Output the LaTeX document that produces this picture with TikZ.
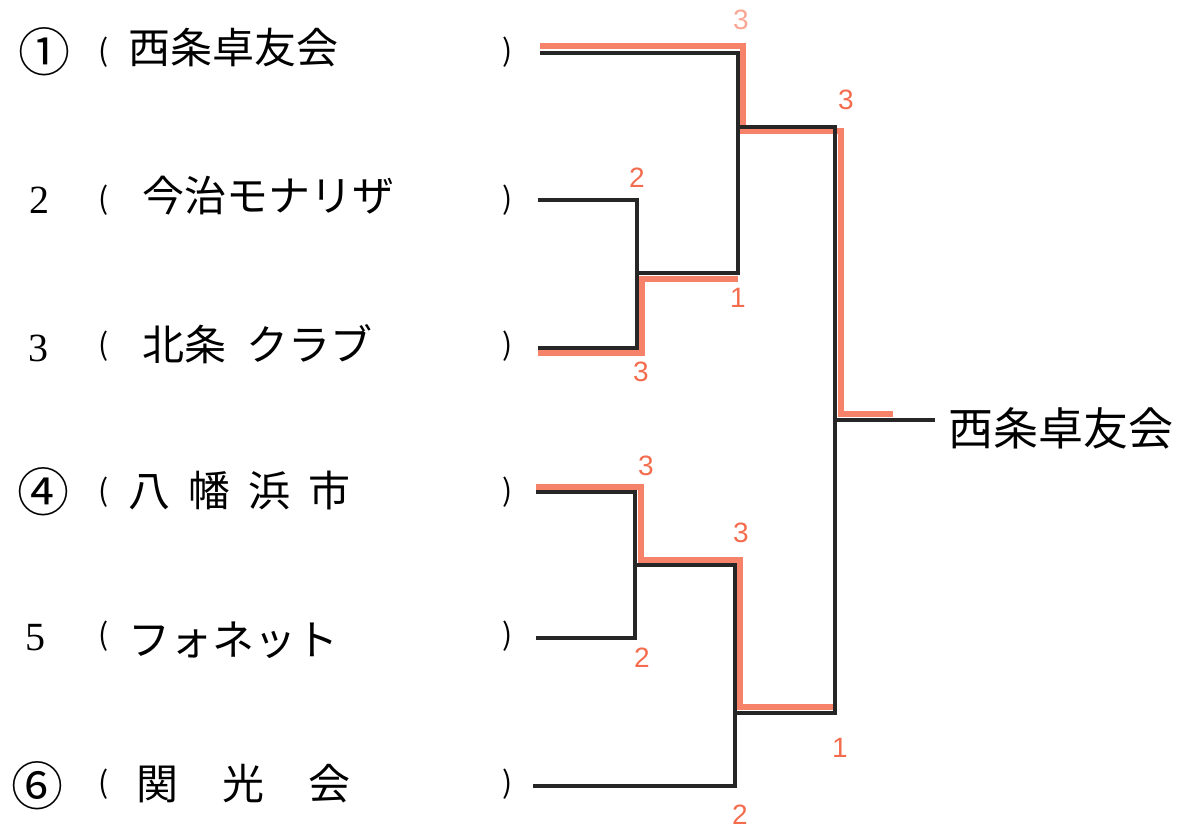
\documentclass[tikz,border=0pt]{standalone}
\usepackage{fontspec}
\setmainfont{Liberation Serif}
\newfontfamily\jpfont{Noto Sans CJK JP}
\newfontfamily\scorefont{Liberation Sans}
\definecolor{winred}{RGB}{244,108,78}

\begin{document}
\begin{tikzpicture}[x=1pt,y=-1pt,
  bracket/.style={line width=3.4pt, black!85, line join=miter},
  winpath/.style={line width=6pt, winred!85, line join=miter},
  score/.style={text=winred, font=\scorefont\fontsize{28}{28}\selectfont, inner sep=0pt},
  seed/.style={font=\jpfont\fontsize{52}{52}\selectfont, inner sep=0pt},
  num/.style={font=\fontsize{40}{40}\selectfont, inner sep=0pt},
  paren/.style={font=\jpfont\fontsize{30}{30}\selectfont, inner sep=0pt},
  team/.style={font=\jpfont\fontsize{42}{42}\selectfont, anchor=west, inner sep=0pt}]

\useasboundingbox (0,0) rectangle (1184,831);

% entries
\node[seed] (n1) at (45,52) {①};
\node[num] (n2) at (40,200) {2};
\node[num] (n3) at (38,348) {3};
\node[seed] (n4) at (43,492) {④};
\node[num] (n5) at (35,638) {5};
\node[seed] (n6) at (38,786) {⑥};

\foreach \i/\y in {1/52,2/200,3/346,4/492,5/636,6/784} {
  \node[paren] (l\i) at (104,\y) {(};
  \node[paren] (r\i) at (508,\y) {)};
}

\node[team] (t1) at (128,48) {西条卓友会};
\node[team] (t2) at (142,196) {今治モナリザ};
\node[team] (t3) at (142,344) {北条\hspace{20pt}クラブ};
\node[team] (t4) at (128,490) {八\hspace{18pt}幡\hspace{18pt}浜\hspace{18pt}市};
\node[team] (t5) at (128,640) {フォネット};
\node[team] (t6) at (136,784) {関\hspace{44pt}光\hspace{44pt}会};

\coordinate (s1) at (540,53);
\coordinate (s2) at (538,200);
\coordinate (s3) at (538,348);
\coordinate (s4) at (536,492);
\coordinate (s5) at (536,638);
\coordinate (s6) at (533,786);

% junctions
\coordinate (jA) at (637,273);
\coordinate (jB) at (738,127);
\coordinate (jC) at (635,565);
\coordinate (jD) at (735,713);
\coordinate (jF) at (835,420);
\coordinate (win) at (935,420);

% winners' paths
\draw[winpath] (540,46) -- (743,46) -- (743,131) -- (841,131) -- (841,414) -- (893,414);
\draw[winpath] (538,353) -- (642,353) -- (642,279) -- (738,279);
\draw[winpath] (536,487) -- (641,487) -- (641,560) -- (740,560) -- (740,707) -- (833,707);

% bracket
\draw[bracket] (s2) -| (jA);
\draw[bracket] (s3) -| (jA);
\draw[bracket] (s1) -| (jB);
\draw[bracket] (jA) -| (jB);
\draw[bracket] (s4) -| (jC);
\draw[bracket] (s5) -| (jC);
\draw[bracket] (jC) -| (jD);
\draw[bracket] (s6) -| (jD);
\draw[bracket] (jB) -| (jF);
\draw[bracket] (jD) -| (jF);
\draw[bracket] (jF) -- (win);

\node[team, font=\jpfont\fontsize{45}{45}\selectfont] (champ) at (948,428) {西条卓友会};

% scores
\node[score, opacity=0.6] (c1) at (741,20) {3};
\node[score] (c2) at (846,100) {3};
\node[score] (c3) at (637,178) {2};
\node[score] (c4) at (738,298) {1};
\node[score] (c5) at (641,372) {3};
\node[score] (c6) at (646,466) {3};
\node[score] (c7) at (741,533) {3};
\node[score] (c8) at (642,658) {2};
\node[score] (c9) at (840,748) {1};
\node[score] (c10) at (740,815) {2};
\end{tikzpicture}
\end{document}
